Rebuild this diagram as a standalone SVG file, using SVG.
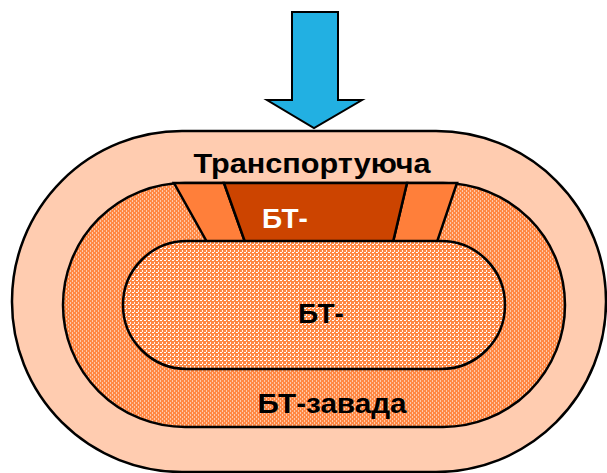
<svg xmlns="http://www.w3.org/2000/svg" width="607" height="473" viewBox="0 0 607 473">
<defs>
<pattern id="dots" width="4" height="4" patternUnits="userSpaceOnUse">
<rect width="4" height="4" fill="#FF8844"/>
<rect x="0" y="0" width="1" height="2" fill="#FFC8A8"/>
<rect x="2" y="2" width="1" height="2" fill="#FFC8A8"/>
</pattern>
<pattern id="check" width="4" height="4" patternUnits="userSpaceOnUse">
<rect width="4" height="4" fill="#FF8844"/>
<rect x="0" y="0" width="2" height="1" fill="#FFFFFF"/>
<rect x="2" y="2" width="1" height="2" fill="#FFF0E8"/>
</pattern>
<style>
.ln{stroke:#000;stroke-width:2.5}
.t{font-family:"Liberation Sans",Arial,sans-serif;font-weight:bold;font-size:28px;text-anchor:middle}
</style>
</defs>
<g id="outer">
<rect x="12" y="131" width="594" height="341" rx="170" ry="170" fill="#FFCCB0" class="ln"/>
<text class="t" x="312" y="173" textLength="237" lengthAdjust="spacingAndGlyphs">Транспортуюча</text>
</g>
<g id="middle">
<rect x="63" y="183" width="502" height="244" rx="122" ry="122" fill="url(#dots)" class="ln"/>
<text class="t" x="332" y="413" textLength="149" lengthAdjust="spacingAndGlyphs">БТ-завада</text>
</g>
<g id="channel">
<polygon points="174,183 224,183 245,242 207,242" fill="#FF7F3A" class="ln"/>
<polygon points="407,183 457,183 437,242 393,242" fill="#FF7F3A" class="ln"/>
<polygon points="224,183 407,183 393,242 245,242" fill="#CC4400" class="ln"/>
<text class="t" x="285" y="228" fill="#FFFFFF">БТ-</text>
</g>
<g id="inner">
<rect x="123" y="241" width="382" height="128" rx="64" ry="64" fill="url(#check)" class="ln"/>
<text class="t" x="321" y="323">БТ-</text>
</g>
<g id="connectors">
<polygon points="292,12 338,12 338,100 362,100 314,128 267,100 292,100" fill="#22B0E2" stroke="#000" stroke-width="2"/>
</g>
</svg>
